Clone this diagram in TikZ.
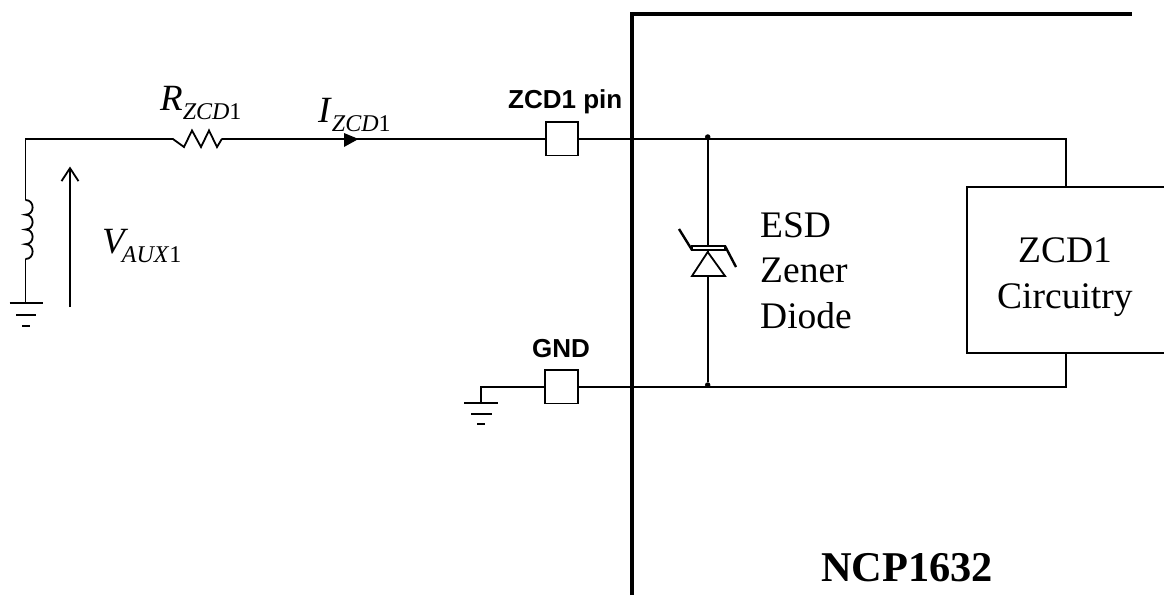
\documentclass[tikz,border=0pt]{standalone}
\usepackage{fontspec}
\setmainfont{Liberation Serif}
\setsansfont{Liberation Sans}
\usetikzlibrary{arrows.meta}
\tikzset{
  wire/.style={line width=1.8pt,black},
  busline/.style={line width=3.4pt,black,line join=miter},
  pinbox/.style={draw,line width=1.7pt,fill=white,inner sep=0pt,outer sep=0pt,anchor=north west},
  pinlabel/.style={font=\sffamily\bfseries\fontsize{26}{30}\selectfont,inner sep=0pt,anchor=base west},
  serif/.style={font=\fontsize{37.5}{42}\selectfont,inner sep=0pt,anchor=base west},
  var/.style={font=\fontsize{37}{42}\selectfont,inner sep=0pt,anchor=base west},
  dotj/.style={circle,fill=black,inner sep=0pt,minimum size=5.5pt}
}
\newcommand{\VarSub}[3]{\textit{#1}\kern#3pt\raisebox{-9.5pt}{\fontsize{24}{28}\selectfont\textit{#2}1}}
\begin{document}
\begin{tikzpicture}[x=1pt,y=-1pt]
\useasboundingbox (0,0) rectangle (1164,595);
% coordinates
\coordinate (corner) at (25.5,138.7);
\coordinate (lt) at (25.5,200);
\coordinate (lb) at (25.5,259);
\coordinate (g1) at (25.5,303);
\coordinate (rl) at (172.5,138.7);
\coordinate (rr) at (222,138.7);
\node[pinbox,minimum width=32pt,minimum height=33.4pt] (pin) at (546,122) {};
\node[pinbox,minimum width=33pt,minimum height=33.4pt] (gndpin) at (545,370) {};
\node[pinbox,minimum width=198pt,minimum height=166pt] (zcd) at (967,187) {};
\node[dotj] (dt) at (707.7,137) {};
\node[dotj] (db) at (707.7,385) {};
\coordinate (g2) at (480.7,403);
\coordinate (gw) at (480.7,386.7);
\coordinate (tr) at (1066,138.7);
\coordinate (br) at (1066,386.7);
% left wire
\draw[wire] (g1) -- (lb);
\draw[wire] (lt) -- (corner) -- (rl);
\draw[wire] (rr) -- (pin.west);
\draw[wire] (lt)
  .. controls (35,200) and (35,214.7) .. (25.5,214.7)
  .. controls (35,214.7) and (35,229.5) .. (25.5,229.5)
  .. controls (35,229.5) and (35,244.2) .. (25.5,244.2)
  .. controls (35,244.2) and (35,259) .. (lb);
% resistor
\draw[wire,line join=miter] (rl) -- (184,147) -- (192,130.5) -- (201,147) -- (209,130.5) -- (217,147) -- (rr);
% ground left
\draw[wire] (9.5,303.3) -- (43,303.3);
\draw[line width=1.2pt] (16,315) -- (36,315);
\draw[line width=2.2pt] (22,326) -- (30,326);
% voltage arrow
\coordinate (va) at (70,307);
\coordinate (vb) at (70,166.5);
\draw[wire,-{Straight Barb[length=13pt,width=17pt,line width=1.8pt]}] (va) -- (vb);
% current arrow
\fill (344,133) -- (358.5,139) -- (344,147) -- cycle;
% pins right
\draw[wire] (pin.east) -- (tr) -- (zcd.north -| tr);
\draw[wire] (gndpin.east) -- (br) -- (zcd.south -| br);
\draw[wire] (gndpin.west) -- (gw) -- (g2);
\draw[wire] (464,403.3) -- (498,403.3);
\draw[line width=1.2pt] (471,414) -- (492,414);
\draw[line width=2.2pt] (477,424) -- (485,424);
% bus
\draw[busline] (632,595) -- (632,14) -- (1132,14);
% zener
\draw[wire] (dt) -- (707.7,252);
\draw[wire] (707.7,276) -- (db);
\draw[wire,line join=miter] (707.7,252) -- (692,276) -- (725,276) -- cycle;
\draw[wire,fill=white] (692,246) rectangle (725,250);
\draw[line width=2.4pt] (692,250) -- (679,229);
\draw[line width=2.4pt] (725,246) -- (736,267);
% labels
\node[pinlabel] (l1) at (508,108) {ZCD1 pin};
\node[pinlabel] (l2) at (532,357) {GND};
\node[var] (rz) at (160,110) {\VarSub{R}{ZCD}{0}};
\node[var] (iz) at (318,122) {\VarSub{I}{ZCD}{0}};
\node[var] (vz) at (102,253) {\VarSub{V}{AUX}{-6.5}};
\node[serif] (esd) at (760,237) {ESD};
\node[serif] (zen) at (760,282) {Zener};
\node[serif] (dio) at (760,328) {Diode};
\node[serif] (zc1) at (1018,262) {ZCD1};
\node[serif] (zc2) at (997,308) {Circuitry};
\node[font=\bfseries\fontsize{42.4}{48}\selectfont,inner sep=0pt,anchor=base west] (ncp) at (821,581) {NCP1632};
\end{tikzpicture}
\end{document}
